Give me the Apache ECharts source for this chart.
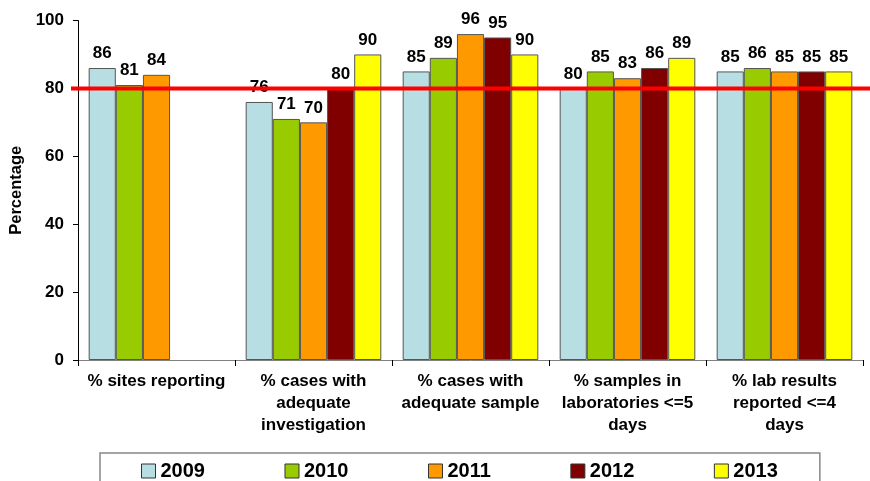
<!DOCTYPE html>
<html>
<head>
<meta charset="utf-8">
<script src="https://cdn.jsdelivr.net/npm/echarts@6/dist/echarts.min.js"></script>
<style>html,body{margin:0;padding:0;background:#fff}#c{width:870px;height:481px}</style>
</head>
<body>
<div id="c"></div>
<script>
var categories = ["% sites reporting", "% cases with\nadequate\ninvestigation", "% cases with\nadequate sample", "% samples in\nlaboratories <=5\ndays", "% lab results\nreported <=4\ndays"];
var years = ["2009", "2010", "2011", "2012", "2013"];
var v2009 = [86, 76, 85, 80, 85];
var v2010 = [81, 71, 89, 85, 86];
var v2011 = [84, 70, 96, 83, 85];
var v2012 = [null, 80, 95, 86, 85];
var v2013 = [null, 90, 90, 89, 85];
var target = 80;
var yTicks = [0, 20, 40, 60, 80, 100];

var values = [v2009, v2010, v2011, v2012, v2013];
var colors = ["#B7DEE2", "#99CC00", "#FF9900", "#800000", "#FFFF00"];
var font = "Liberation Sans, Arial, sans-serif";

var series = years.map(function (y, i) {
  return {
    name: y, type: 'bar', xAxisIndex: 0, yAxisIndex: 0,
    data: values[i],
    barGap: '0%', barCategoryGap: '13.6%',
    itemStyle: { color: colors[i], borderColor: '#555', borderWidth: 1 },
    label: { show: true, position: 'top', distance: 6, fontFamily: font, fontWeight: 'bold', fontSize: 17, color: '#000' },
    z: 2
  };
});
series.push({
  type: 'line', xAxisIndex: 1, yAxisIndex: 1,
  data: [[0, target], [1, target]],
  symbol: 'none', silent: true,
  lineStyle: { color: '#FF0000', width: 4 },
  z: 5
});

var chart = echarts.init(document.getElementById('c'), null, { renderer: 'canvas' });
chart.setOption({
  animation: false,
  grid: [
    { left: 78, right: 7, top: 20.5, bottom: 121, containLabel: false, outerBoundsMode: 'none' },
    { left: 71, right: 0, top: 20.5, bottom: 121, containLabel: false, outerBoundsMode: 'none' }
  ],
  legend: {
    data: years,
    left: 100, top: 453,
    padding: [8, 42, 10, 41],
    itemGap: 79.5, itemWidth: 14, itemHeight: 14,
    borderColor: '#888', borderWidth: 1.5,
    icon: 'rect',
    itemStyle: { borderColor: '#333', borderWidth: 1 },
    textStyle: { fontFamily: font, fontWeight: 'bold', fontSize: 20, color: '#000' }
  },
  xAxis: [
    {
      type: 'category', gridIndex: 0, data: categories,
      axisLine: { lineStyle: { color: '#808080', width: 1 } },
      axisTick: { show: true, alignWithLabel: false, length: 6, lineStyle: { color: '#000' } },
      axisLabel: { interval: 0, margin: 10, fontFamily: font, fontWeight: 'bold', fontSize: 17, lineHeight: 22, color: '#000' }
    },
    { type: 'value', gridIndex: 1, min: 0, max: 1, show: false }
  ],
  yAxis: [
    {
      type: 'value', gridIndex: 0, min: 0, max: 100, interval: 20,
      name: 'Percentage', nameLocation: 'middle', nameGap: 51, nameRotate: 90,
      nameTextStyle: { fontFamily: font, fontWeight: 'bold', fontSize: 16.5, color: '#000' },
      axisLine: { show: true, lineStyle: { color: '#000', width: 1 } },
      axisTick: { show: true, length: 5, lineStyle: { color: '#000' } },
      splitLine: { show: false },
      axisLabel: { margin: 14, fontFamily: font, fontWeight: 'bold', fontSize: 17, color: '#000',
        formatter: function (v) { return yTicks.indexOf(v) >= 0 ? String(v) : ''; } }
    },
    { type: 'value', gridIndex: 1, min: 0, max: 100, show: false }
  ],
  series: series
});
</script>
</body>
</html>
